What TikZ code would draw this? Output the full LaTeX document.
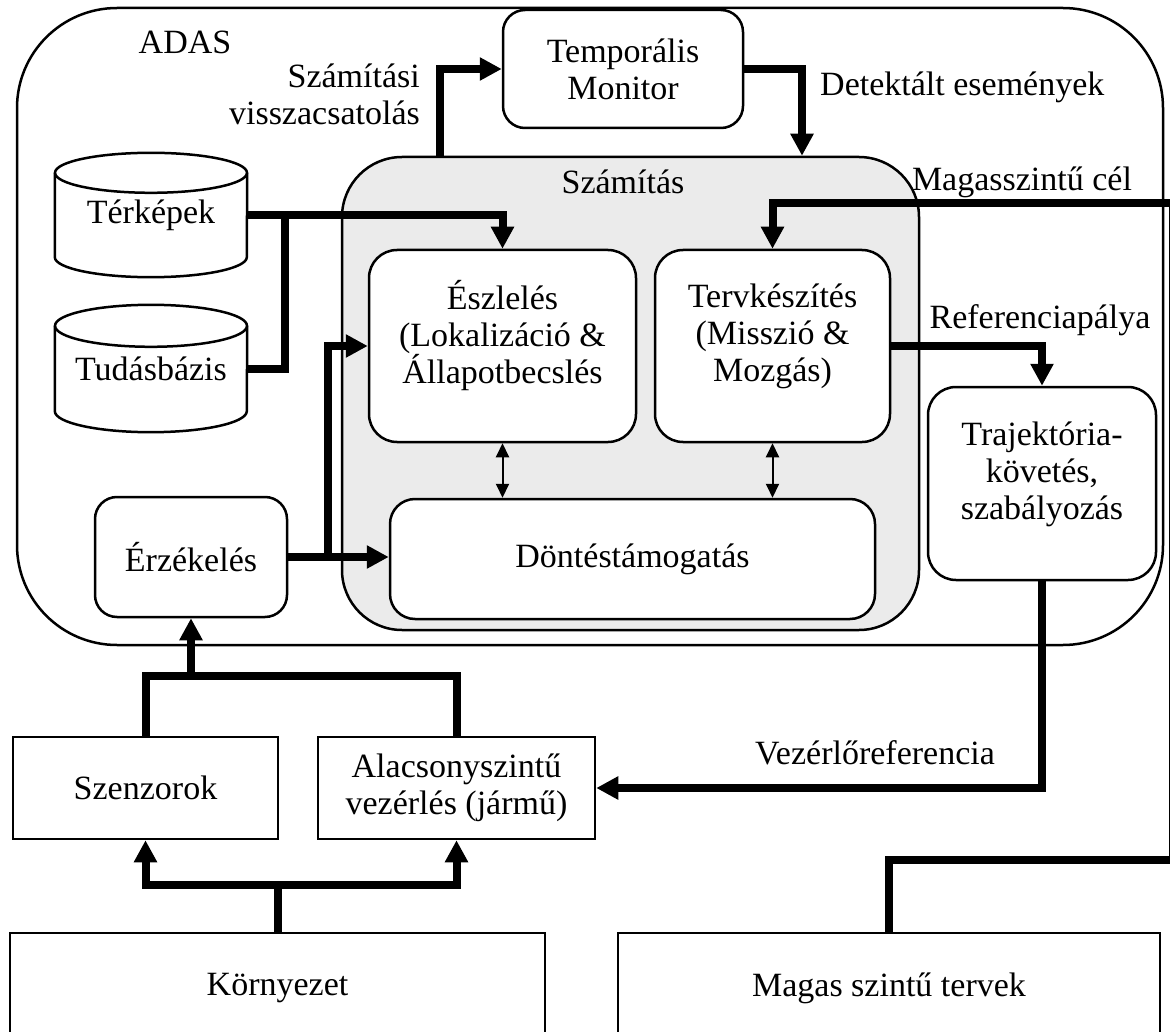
\documentclass[tikz,border=0pt]{standalone}
\usepackage{fontspec}
\setmainfont{Liberation Serif}
\usetikzlibrary{arrows.meta,calc}
\definecolor{panel}{HTML}{EBEBEB}
\newcommand\fs{\fontsize{34}{37}\selectfont}
% cylinder outline around a named node: #1 node, #2 half height of the cap ellipse, #3 half width
\newcommand\drawcyl[3]{%
  \draw[line width=2.5pt] ([yshift=-#2]#1.north west) -- ([yshift=#2]#1.south west)
    arc[start angle=180,end angle=360,x radius=#3,y radius=#2] -- ([yshift=-#2]#1.north east);
  \draw[line width=2.5pt] ([yshift=-#2]#1.north) ellipse[x radius=#3,y radius=#2];}
\tikzset{
  every node/.style={font=\fs, inner sep=0pt, align=center},
  rbox/.style={draw, line width=2.5pt, fill=white, rounded corners=#1},
  sbox/.style={draw, line width=2.5pt, fill=white},
  conn/.style={line width=8pt, -{Triangle[length=22pt,width=22pt]}},
  wire/.style={line width=8pt},
  dbl/.style={line width=2pt, {Triangle[length=14pt,width=13pt]}-{Triangle[length=14pt,width=13pt]}},
}
\begin{document}
\begin{tikzpicture}[x=1pt,y=-1pt]
\useasboundingbox (0,0) rectangle (1170,1032);

% outer system frame
\node[rbox=100pt, minimum width=1146pt, minimum height=637pt] (adas) at (590,326.5) {};
\node (adaslbl) at (185,42) {ADAS};

% computation panel
\node[rbox=60pt, fill=panel, minimum width=577pt, minimum height=473pt] (szam) at (630.5,393.5) {};
\node (szamlbl) at (623,182) {Számítás};

% blocks (multi-line texts sit a little above the box centre)
\node[rbox=22pt, minimum width=240pt, minimum height=118pt] (temp) at (623,69) {Temporális\\Monitor};
\node[rbox=28pt, minimum width=267pt, minimum height=192pt,
      label={[yshift=10pt]center:{Észlelés\\(Lokalizáció \&\\Állapotbecslés}}] (eszl) at (502.5,346) {};
\node[rbox=28pt, minimum width=235pt, minimum height=192pt,
      label={[yshift=10pt]center:{Tervkészítés\\(Misszió \&\\Mozgás)}}] (terv) at (772.5,346) {};
\node[rbox=25pt, minimum width=485pt, minimum height=120pt] (dont) at (632.5,559) {Döntéstámogatás};
\node[rbox=28pt, minimum width=228pt, minimum height=193pt,
      label={[yshift=9pt]center:{Trajektória-\\követés,\\szabályozás}}] (traj) at (1042,483.5) {};
\node[rbox=22pt, minimum width=192pt, minimum height=120pt] (erz) at (191,557) {Érzékelés};

% data stores
\node[minimum width=192pt, minimum height=124pt] (terk) at (151,215) {Térképek};
\drawcyl{terk}{20pt}{96pt}
\node[minimum width=192pt, minimum height=127pt] (tud) at (151,368.5) {Tudásbázis};
\drawcyl{tud}{21pt}{96pt}

% outside blocks
\node[sbox, minimum width=265pt, minimum height=102pt] (szenz) at (145.5,788) {Szenzorok};
\node[sbox, minimum width=277pt, minimum height=102pt] (alacs) at (456.5,788) {Alacsonyszintű\\vezérlés (jármű)};
\node[sbox, minimum width=535pt, minimum height=110pt] (korny) at (277.5,988) {Környezet};
\node[sbox, minimum width=542pt, minimum height=110pt] (magas) at (889,988) {Magas szintű tervek};

% connector labels
\node[anchor=east, align=right] (fblbl) at (420,94) {Számítási\\visszacsatolás};
\node[anchor=west] (detlbl) at (820,87) {Detektált események};
\node (cellbl) at (1022,182) {Magasszintű cél};
\node (reflbl) at (1040,320) {Referenciapálya};
\node (vezlbl) at (875,753) {Vezérlőreferencia};

% connectors
\draw[conn] ([xshift=-190.5pt]szam.north) |- (temp.west);
\draw[conn] (temp.east) -| ([xshift=171.5pt]szam.north);
\coordinate (rc) at (1173,203);
\draw[conn] (magas.north) |- (1173,860) -- (rc) -| (terv.north);
\draw[conn] (terv.east) -| (traj.north);
\draw[conn] (traj.south) |- (alacs.east);
\draw[conn] (terk.east) -| (eszl.north);
\draw[wire] (tud.east) -| ([xshift=134pt]terk.center);
\draw[conn] (erz.east) -- (erz.east -| dont.west);
\draw[conn] ([xshift=40pt]erz.east) |- (eszl.west);
\draw[dbl] (eszl.south) -- (eszl.south |- dont.north);
\draw[dbl] (terv.south) -- (terv.south |- dont.north);
\coordinate (sj) at ([yshift=60pt]szenz.north);
\draw[wire] (szenz.north) -- (sj) -| (alacs.north);
\draw[conn] (erz.south |- sj) -- (erz.south);
\coordinate (kj) at ([yshift=47pt]korny.north);
\draw[wire] (korny.north) -- (kj);
\draw[conn] (kj) -| (szenz.south);
\draw[conn] (kj) -| (alacs.south);
\end{tikzpicture}
\end{document}
